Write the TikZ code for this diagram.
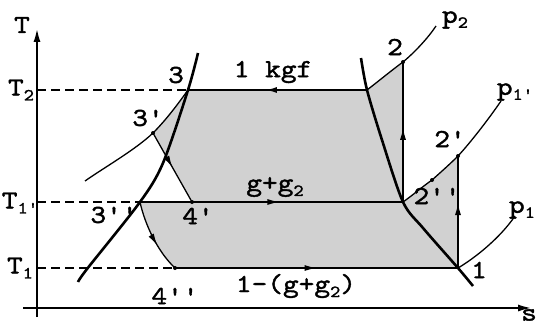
\documentclass[tikz,border=0pt]{standalone}
\usepackage{fontspec}
\newfontfamily\lblfont{lmmono10-regular.otf}[FakeBold=1.5,FakeStretch=1.15]
\usetikzlibrary{arrows.meta,decorations.markings}
\newcommand\lsub[1]{\raisebox{-0.45ex}{\fontsize{17}{17}\selectfont #1}}
\tikzset{
 satline/.style={line width=2.6pt},
 thinline/.style={line width=1.3pt},
 dashline/.style={line width=1.3pt, dash pattern=on 9pt off 5pt},
 midarrow/.style={postaction={decorate},decoration={markings,mark=at position #1 with {\arrow{Latex[length=12pt,width=6pt]}}}},
 lbl/.style={font=\lblfont\fontsize{26}{26}\selectfont, inner sep=0pt},
 ptdot/.style={circle,fill,inner sep=0pt,minimum size=4pt},
 shadearea/.style={fill=black!18},
 axisline/.style={line width=2.2pt, -{Latex[length=14pt,width=7pt]}},
}
\begin{document}
\begin{tikzpicture}[x=1pt,y=-1pt]
\useasboundingbox (0,0) rectangle (537,326);
% points
\coordinate (P3) at (188,90);
\coordinate (V2) at (367,90);
\coordinate (P2) at (403,62);
\coordinate (V1p) at (403,202);
\coordinate (P4p) at (192,202);
\coordinate (P3p) at (153,133);
\coordinate (P3pp) at (140,202);
\coordinate (P4pp) at (175,268);
\coordinate (P1) at (458,268);
\coordinate (P2p) at (458,156);
\coordinate (P2pp) at (432,180);
\coordinate (A2) at (37,90);
\coordinate (A1p) at (37,202);
\coordinate (A1) at (37,268);
\coordinate (E2) at (436,26);
\coordinate (E1p) at (501,101);
\coordinate (E1) at (515,216);
\coordinate (E3) at (85,181);
% shaded areas
\fill[shadearea] (P3) -- (V2) .. controls (380,80) and (392,70) .. (P2) -- (V1p) -- (P4p) -- (P3p)
  .. controls (166,120) and (178,104) .. (P3) -- cycle;
\fill[shadearea] (P3pp) -- (V1p) .. controls (413,195) and (422,187) .. (P2pp)
  .. controls (441,172) and (450,164) .. (P2p) -- (P1) -- (P4pp)
  .. controls (158,252) and (145,225) .. (P3pp) -- cycle;
% axes
\coordinate (Tb) at (37,317);
\coordinate (Tt) at (37,28);
\coordinate (Sl) at (23,308);
\coordinate (Sr) at (532,308);
\draw[axisline] (Tb) -- (Tt);
\draw[axisline] (Sl) -- (Sr);
% dashed levels
\draw[dashline] (A2) -- (P3);
\draw[dashline] (A1p) -- (P3pp);
\draw[dashline] (A1) -- (P4pp);
% saturation lines
\draw[satline] plot[smooth] coordinates {(198,53) (188,90) (163,163) (140,202) (87,269) (78,282)};
\draw[satline] plot[smooth] coordinates {(361,58) (367,90) (382,140) (403,202) (423,228) (458,268) (473,286)};
% isobars
\draw[thinline] (V2) .. controls (380,80) and (392,70) .. (P2) .. controls (415,52) and (428,38) .. (E2);
\draw[thinline] (V1p) .. controls (413,195) and (422,187) .. (P2pp)
  .. controls (441,172) and (450,164) .. (P2p) .. controls (470,143) and (488,120) .. (E1p);
\draw[thinline] (P1) .. controls (475,258) and (500,238) .. (E1);
\draw[thinline] (P3) .. controls (178,104) and (166,120) .. (P3p) .. controls (135,150) and (105,167) .. (E3);
% process lines
\draw[line width=2pt, midarrow=0.57] (V2) -- (P3);
\draw[thinline, midarrow=0.53] (P3pp) -- (V1p);
\draw[thinline, midarrow=0.50] (P4pp) -- (P1);
\draw[thinline, midarrow=0.53] (V1p) -- (P2);
\draw[thinline, midarrow=0.58] (P1) -- (P2p);
\draw[thinline, midarrow=0.5] (P3p) -- (P4p);
\draw[thinline, midarrow=0.62] (P3pp) .. controls (145,225) and (158,252) .. (P4pp);
% dots
\node[ptdot] (d2) at (P2) {};
\node[ptdot] (d2p) at (P2p) {};
\node[ptdot] (d2pp) at (P2pp) {};
\node[ptdot] (d3p) at (P3p) {};
\node[ptdot] (d4p) at (P4p) {};
\node[ptdot] (d4pp) at (P4pp) {};
% labels
\node[lbl] (lT) at (22,25) {T};
\node[lbl] (lT2) at (21,90) {T\lsub{2}};
\node[lbl] (lT1p) at (20,203) {T\lsub{1'}};
\node[lbl] (lT1) at (20,268) {T\lsub{1}};
\node[lbl] (l3) at (176,75) {3};
\node[lbl] (l3p) at (148,118) {3'};
\node[lbl] (l3pp) at (114,215) {3''};
\node[lbl] (l4p) at (198,216) {4'};
\node[lbl] (l4pp) at (175,296) {4''};
\node[lbl] (l2) at (395,47) {2};
\node[lbl] (l2p) at (450,139) {2'};
\node[lbl] (l2pp) at (437,196) {2''};
\node[lbl] (l1) at (479,270) {1};
\node[lbl] (lp2) at (455,20) {p\lsub{2}};
\node[lbl] (lp1p) at (515,92) {p\lsub{1'}};
\node[lbl] (lp1) at (522,210) {p\lsub{1}};
\node[lbl] (lkgf) at (273,72) {1 kgf};
\node[lbl] (lgg) at (275,187) {g+g\lsub{2}};
\node[lbl] (lbot) at (296,286) {1-(g+g\lsub{2})};
\node[lbl, anchor=east] (ls) at (537,315) {s};
\end{tikzpicture}
\end{document}
